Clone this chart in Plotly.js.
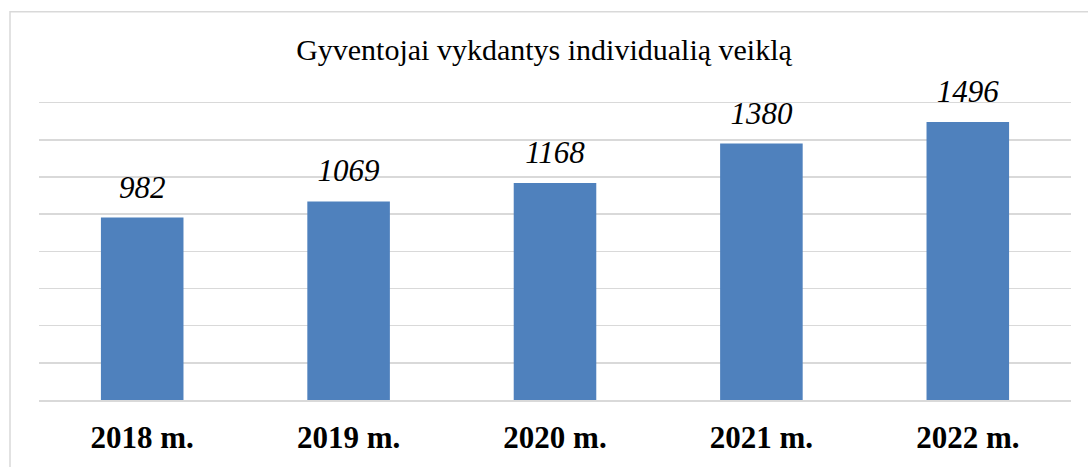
<!DOCTYPE html>
<html>
<head>
<meta charset="utf-8">
<script src="https://cdn.plot.ly/plotly-3.0.1.min.js"></script>
<style>
  html, body { margin: 0; padding: 0; background: #ffffff; }
  #chart { width: 1088px; height: 467px; }
</style>
</head>
<body>
<div id="chart"></div>
<script>
// Gyventojai vykdantys individualią veiklą
const years = ['2018 m.', '2019 m.', '2020 m.', '2021 m.', '2022 m.'];
const residents = [982, 1069, 1168, 1380, 1496];

const serif = 'Liberation Serif';

const data = [{
    type: 'bar',
    x: years,
    y: residents,
    marker: { color: '#4f81bd' },
    hoverinfo: 'x+y'
}, {
    // value labels above the bars (invisible markers just set the gap)
    type: 'scatter',
    mode: 'markers+text',
    x: years,
    y: residents,
    text: residents.map(String),
    textposition: 'top center',
    marker: { size: 18, color: 'rgba(0,0,0,0)' },
    cliponaxis: false,
    textfont: { family: serif, size: 31, color: '#000000', style: 'italic' },
    hoverinfo: 'skip'
}];

const layout = {
    width: 1088,
    height: 467,
    paper_bgcolor: '#ffffff',
    plot_bgcolor: '#ffffff',
    showlegend: false,
    bargap: 0.6,
    margin: { l: 39, r: 17, t: 99, b: 67 },
    title: {
        text: 'Gyventojai vykdantys individualią veiklą',
        font: { family: serif, size: 30, color: '#000000' },
        x: 0.5,
        xanchor: 'center',
        y: 0.895,
        yanchor: 'middle'
    },
    xaxis: {
        showgrid: false,
        showline: true,
        linecolor: '#d9d9d9',
        linewidth: 1.5,
        ticks: '',
        ticklabelstandoff: 9,
        tickfont: { family: serif, size: 31, color: '#000000', weight: 'bold' }
    },
    yaxis: {
        range: [0, 1620],
        tick0: 0,
        dtick: 200,
        showgrid: true,
        gridcolor: '#d9d9d9',
        gridwidth: 1.5,
        zeroline: false,
        showticklabels: false,
        ticks: ''
    },
    shapes: [{
        type: 'rect',
        xref: 'paper',
        yref: 'paper',
        x0: -0.0281,
        x1: 1.2,
        y0: -0.5,
        y1: 1.29,
        line: { color: '#d9d9d9', width: 1.5 }
    }]
};

Plotly.newPlot('chart', data, layout, { displayModeBar: false, staticPlot: true });
</script>
</body>
</html>
